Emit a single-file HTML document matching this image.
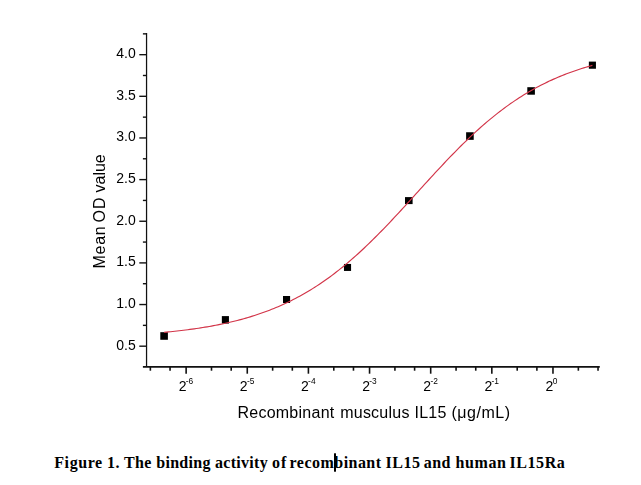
<!DOCTYPE html>
<html><head><meta charset="utf-8"><style>
html,body{margin:0;padding:0;background:#fff;}
body{width:641px;height:485px;overflow:hidden;position:relative;}
svg{position:absolute;left:0;top:0;}
.chart{will-change:transform;}
.t{font-family:"Liberation Sans",sans-serif;fill:#000;}
.cap{font-family:"Liberation Serif",serif;font-weight:bold;fill:#000;}
</style></head><body>
<svg class="chart" width="641" height="440" viewBox="0 0 641 440">
<line x1="146.55" y1="33.1" x2="146.55" y2="367" stroke="#111" stroke-width="1.25"/>
<line x1="142.9" y1="366.85" x2="599.8" y2="366.85" stroke="#111" stroke-width="1.7"/>
<line x1="139.3" y1="346.19" x2="146" y2="346.19" stroke="#111" stroke-width="1.4"/>
<text class="t" x="135.8" y="349.69" font-size="14" text-anchor="end">0.5</text>
<line x1="142.9" y1="325.36" x2="146" y2="325.36" stroke="#111" stroke-width="1.4"/>
<line x1="139.3" y1="304.54" x2="146" y2="304.54" stroke="#111" stroke-width="1.4"/>
<text class="t" x="135.8" y="308.04" font-size="14" text-anchor="end">1.0</text>
<line x1="142.9" y1="283.72" x2="146" y2="283.72" stroke="#111" stroke-width="1.4"/>
<line x1="139.3" y1="262.90" x2="146" y2="262.90" stroke="#111" stroke-width="1.4"/>
<text class="t" x="135.8" y="266.40" font-size="14" text-anchor="end">1.5</text>
<line x1="142.9" y1="242.07" x2="146" y2="242.07" stroke="#111" stroke-width="1.4"/>
<line x1="139.3" y1="221.25" x2="146" y2="221.25" stroke="#111" stroke-width="1.4"/>
<text class="t" x="135.8" y="224.75" font-size="14" text-anchor="end">2.0</text>
<line x1="142.9" y1="200.43" x2="146" y2="200.43" stroke="#111" stroke-width="1.4"/>
<line x1="139.3" y1="179.61" x2="146" y2="179.61" stroke="#111" stroke-width="1.4"/>
<text class="t" x="135.8" y="183.11" font-size="14" text-anchor="end">2.5</text>
<line x1="142.9" y1="158.78" x2="146" y2="158.78" stroke="#111" stroke-width="1.4"/>
<line x1="139.3" y1="137.96" x2="146" y2="137.96" stroke="#111" stroke-width="1.4"/>
<text class="t" x="135.8" y="141.46" font-size="14" text-anchor="end">3.0</text>
<line x1="142.9" y1="117.14" x2="146" y2="117.14" stroke="#111" stroke-width="1.4"/>
<line x1="139.3" y1="96.31" x2="146" y2="96.31" stroke="#111" stroke-width="1.4"/>
<text class="t" x="135.8" y="99.81" font-size="14" text-anchor="end">3.5</text>
<line x1="142.9" y1="75.49" x2="146" y2="75.49" stroke="#111" stroke-width="1.4"/>
<line x1="139.3" y1="54.67" x2="146" y2="54.67" stroke="#111" stroke-width="1.4"/>
<text class="t" x="135.8" y="58.17" font-size="14" text-anchor="end">4.0</text>
<line x1="142.9" y1="33.85" x2="146" y2="33.85" stroke="#111" stroke-width="1.4"/>
<line x1="150.36" y1="367" x2="150.36" y2="370.7" stroke="#111" stroke-width="1.6"/>
<line x1="170.05" y1="367" x2="170.05" y2="370.7" stroke="#111" stroke-width="1.6"/>
<line x1="186.13" y1="367" x2="186.13" y2="373.7" stroke="#111" stroke-width="1.6"/>
<line x1="211.50" y1="367" x2="211.50" y2="370.7" stroke="#111" stroke-width="1.6"/>
<line x1="231.19" y1="367" x2="231.19" y2="370.7" stroke="#111" stroke-width="1.6"/>
<line x1="247.27" y1="367" x2="247.27" y2="373.7" stroke="#111" stroke-width="1.6"/>
<line x1="272.64" y1="367" x2="272.64" y2="370.7" stroke="#111" stroke-width="1.6"/>
<line x1="292.33" y1="367" x2="292.33" y2="370.7" stroke="#111" stroke-width="1.6"/>
<line x1="308.41" y1="367" x2="308.41" y2="373.7" stroke="#111" stroke-width="1.6"/>
<line x1="333.78" y1="367" x2="333.78" y2="370.7" stroke="#111" stroke-width="1.6"/>
<line x1="353.47" y1="367" x2="353.47" y2="370.7" stroke="#111" stroke-width="1.6"/>
<line x1="369.55" y1="367" x2="369.55" y2="373.7" stroke="#111" stroke-width="1.6"/>
<line x1="394.92" y1="367" x2="394.92" y2="370.7" stroke="#111" stroke-width="1.6"/>
<line x1="414.61" y1="367" x2="414.61" y2="370.7" stroke="#111" stroke-width="1.6"/>
<line x1="430.69" y1="367" x2="430.69" y2="373.7" stroke="#111" stroke-width="1.6"/>
<line x1="456.06" y1="367" x2="456.06" y2="370.7" stroke="#111" stroke-width="1.6"/>
<line x1="475.75" y1="367" x2="475.75" y2="370.7" stroke="#111" stroke-width="1.6"/>
<line x1="491.83" y1="367" x2="491.83" y2="373.7" stroke="#111" stroke-width="1.6"/>
<line x1="517.21" y1="367" x2="517.21" y2="370.7" stroke="#111" stroke-width="1.6"/>
<line x1="536.89" y1="367" x2="536.89" y2="370.7" stroke="#111" stroke-width="1.6"/>
<line x1="552.97" y1="367" x2="552.97" y2="373.7" stroke="#111" stroke-width="1.6"/>
<line x1="578.35" y1="367" x2="578.35" y2="370.7" stroke="#111" stroke-width="1.6"/>
<line x1="598.03" y1="367" x2="598.03" y2="370.7" stroke="#111" stroke-width="1.6"/>
<text class="t" x="178.73" y="390.8" font-size="14">2</text><text class="t" x="185.83" y="383.9" font-size="8.4">-6</text>
<text class="t" x="239.87" y="390.8" font-size="14">2</text><text class="t" x="246.97" y="383.9" font-size="8.4">-5</text>
<text class="t" x="301.01" y="390.8" font-size="14">2</text><text class="t" x="308.11" y="383.9" font-size="8.4">-4</text>
<text class="t" x="362.15" y="390.8" font-size="14">2</text><text class="t" x="369.25" y="383.9" font-size="8.4">-3</text>
<text class="t" x="423.29" y="390.8" font-size="14">2</text><text class="t" x="430.39" y="383.9" font-size="8.4">-2</text>
<text class="t" x="484.43" y="390.8" font-size="14">2</text><text class="t" x="491.53" y="383.9" font-size="8.4">-1</text>
<text class="t" x="545.57" y="390.8" font-size="14">2</text><text class="t" x="552.67" y="383.9" font-size="8.4">0</text>
<rect x="160.30" y="332.18" width="7.60" height="7.60" fill="#000"/>
<rect x="221.85" y="316.10" width="7.10" height="7.50" fill="#000"/>
<rect x="283.00" y="296.00" width="7.10" height="7.00" fill="#000"/>
<rect x="343.97" y="263.95" width="7.10" height="7.00" fill="#000"/>
<rect x="405.00" y="197.10" width="7.60" height="7.00" fill="#000"/>
<rect x="466.12" y="132.25" width="7.60" height="7.60" fill="#000"/>
<rect x="527.30" y="87.20" width="7.60" height="7.50" fill="#000"/>
<rect x="588.85" y="61.60" width="7.10" height="7.15" fill="#000"/>
<polyline points="164.10,332.35 166.25,332.14 168.40,331.93 170.56,331.72 172.71,331.49 174.86,331.26 177.01,331.03 179.17,330.78 181.32,330.53 183.47,330.27 185.62,330.00 187.77,329.73 189.93,329.44 192.08,329.15 194.23,328.85 196.38,328.53 198.54,328.21 200.69,327.88 202.84,327.54 204.99,327.19 207.15,326.83 209.30,326.45 211.45,326.07 213.60,325.67 215.75,325.26 217.91,324.84 220.06,324.41 222.21,323.96 224.36,323.50 226.52,323.03 228.67,322.55 230.82,322.05 232.97,321.53 235.12,321.00 237.28,320.45 239.43,319.89 241.58,319.32 243.73,318.72 245.89,318.11 248.04,317.48 250.19,316.84 252.34,316.17 254.49,315.49 256.65,314.79 258.80,314.07 260.95,313.33 263.10,312.57 265.26,311.79 267.41,310.99 269.56,310.17 271.71,309.32 273.87,308.46 276.02,307.57 278.17,306.66 280.32,305.72 282.47,304.76 284.63,303.78 286.78,302.77 288.93,301.74 291.08,300.68 293.24,299.59 295.39,298.48 297.54,297.35 299.69,296.18 301.84,294.99 304.00,293.77 306.15,292.53 308.30,291.26 310.45,289.95 312.61,288.62 314.76,287.26 316.91,285.88 319.06,284.46 321.22,283.01 323.37,281.54 325.52,280.03 327.67,278.50 329.82,276.93 331.98,275.34 334.13,273.72 336.28,272.06 338.43,270.38 340.59,268.67 342.74,266.93 344.89,265.16 347.04,263.36 349.19,261.53 351.35,259.68 353.50,257.80 355.65,255.88 357.80,253.95 359.96,251.98 362.11,249.99 364.26,247.97 366.41,245.93 368.56,243.87 370.72,241.78 372.87,239.66 375.02,237.53 377.17,235.37 379.33,233.19 381.48,231.00 383.63,228.78 385.78,226.55 387.94,224.30 390.09,222.03 392.24,219.75 394.39,217.45 396.54,215.14 398.70,212.82 400.85,210.49 403.00,208.15 405.15,205.80 407.31,203.44 409.46,201.08 411.61,198.71 413.76,196.34 415.91,193.97 418.07,191.60 420.22,189.22 422.37,186.85 424.52,184.48 426.68,182.12 428.83,179.76 430.98,177.41 433.13,175.06 435.28,172.73 437.44,170.40 439.59,168.08 441.74,165.78 443.89,163.49 446.05,161.22 448.20,158.96 450.35,156.72 452.50,154.49 454.66,152.28 456.81,150.10 458.96,147.93 461.11,145.78 463.26,143.66 465.42,141.56 467.57,139.48 469.72,137.42 471.87,135.40 474.03,133.39 476.18,131.41 478.33,129.46 480.48,127.54 482.63,125.64 484.79,123.77 486.94,121.93 489.09,120.12 491.24,118.33 493.40,116.58 495.55,114.85 497.70,113.15 499.85,111.49 502.01,109.85 504.16,108.24 506.31,106.66 508.46,105.11 510.61,103.59 512.77,102.10 514.92,100.64 517.07,99.21 519.22,97.81 521.38,96.43 523.53,95.09 525.68,93.77 527.83,92.48 529.98,91.22 532.14,89.99 534.29,88.79 536.44,87.61 538.59,86.46 540.75,85.34 542.90,84.24 545.05,83.17 547.20,82.12 549.35,81.10 551.51,80.11 553.66,79.14 555.81,78.19 557.96,77.26 560.12,76.36 562.27,75.49 564.42,74.63 566.57,73.80 568.73,72.98 570.88,72.19 573.03,71.42 575.18,70.67 577.33,69.94 579.49,69.23 581.64,68.54 583.79,67.87 585.94,67.21 588.10,66.58 590.25,65.96 592.40,65.36" fill="none" stroke="#d23448" stroke-width="1.15"/>
<text class="t" x="237.40" y="417.9" font-size="16" textLength="96.88" lengthAdjust="spacing">Recombinant</text>
<text class="t" x="340.20" y="417.9" font-size="16" textLength="69.18" lengthAdjust="spacing">musculus</text>
<text class="t" x="414.50" y="417.9" font-size="16" textLength="31.84" lengthAdjust="spacing">IL15</text>
<text class="t" x="451.40" y="417.9" font-size="16" textLength="58.65" lengthAdjust="spacing">(μg/mL)</text>
<text class="t" font-size="16" transform="translate(104.8,267.40) rotate(-90)" x="-1.00" y="0" textLength="42.13" lengthAdjust="spacing">Mean</text>
<text class="t" font-size="16" transform="translate(104.8,221.50) rotate(-90)" x="-1.00" y="0" textLength="25.20" lengthAdjust="spacing">OD</text>
<text class="t" font-size="16" transform="translate(104.8,192.40) rotate(-90)" x="0.00" y="0" textLength="38.15" lengthAdjust="spacing">value</text>
</svg>
<svg style="top:440px" width="641" height="45" viewBox="0 440 641 45">
<text class="cap" x="54.25" y="468" font-size="16" textLength="47.98" lengthAdjust="spacing">Figure</text>
<text class="cap" x="107.10" y="468" font-size="16" textLength="12.40" lengthAdjust="spacing">1.</text>
<text class="cap" x="124.00" y="468" font-size="16" textLength="27.27" lengthAdjust="spacing">The</text>
<text class="cap" x="156.25" y="468" font-size="16" textLength="54.23" lengthAdjust="spacing">binding</text>
<text class="cap" x="214.90" y="468" font-size="16" textLength="52.86" lengthAdjust="spacing">activity</text>
<text class="cap" x="272.10" y="468" font-size="16">o</text>
<text class="cap" x="281.10" y="468" font-size="16">f</text>
<text class="cap" x="289.60" y="468" font-size="16" textLength="91.46" lengthAdjust="spacing">recombinant</text>
<text class="cap" x="385.50" y="468" font-size="16" textLength="34.41" lengthAdjust="spacing">IL15</text>
<text class="cap" x="423.75" y="468" font-size="16" textLength="26.65" lengthAdjust="spacing">and</text>
<text class="cap" x="455.50" y="468" font-size="16" textLength="50.53" lengthAdjust="spacing">human</text>
<text class="cap" x="509.60" y="468" font-size="16" textLength="55.15" lengthAdjust="spacing">IL15Ra</text>
<rect x="334" y="453.3" width="2" height="18.4" fill="#000"/>
</svg></body></html>
